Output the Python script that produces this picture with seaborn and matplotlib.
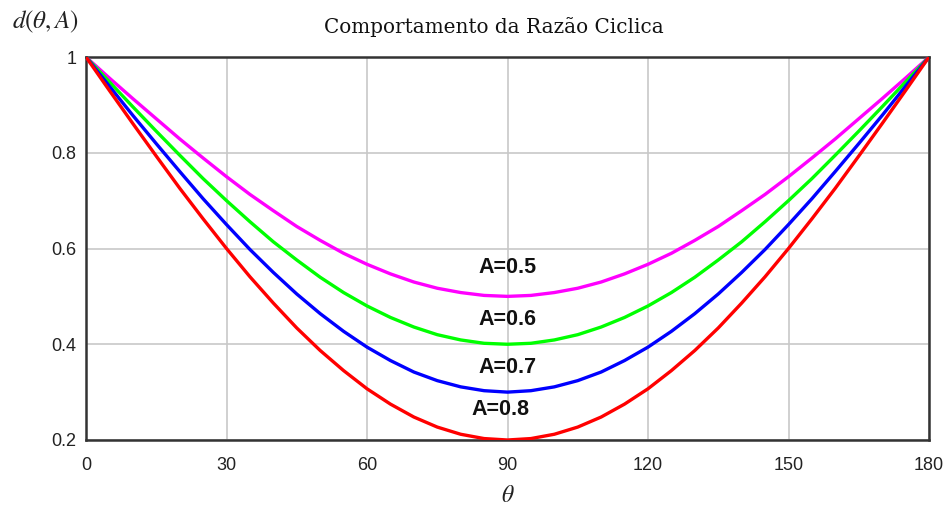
import numpy as np
import pandas as pd
import seaborn as sns
import matplotlib.pyplot as plt

# Duty cycle d(theta, A) sampled every 5 degrees
theta = list(range(0, 185, 5))

d_05 = [1.000, 0.956, 0.913, 0.871, 0.829, 0.789, 0.750, 0.713, 0.679, 0.646,
        0.617, 0.590, 0.567, 0.547, 0.530, 0.517, 0.508, 0.502, 0.500,
        0.502, 0.508, 0.517, 0.530, 0.547, 0.567, 0.590, 0.617, 0.646,
        0.679, 0.713, 0.750, 0.789, 0.829, 0.871, 0.913, 0.956, 1.000]
d_06 = [1.000, 0.948, 0.896, 0.845, 0.795, 0.746, 0.700, 0.656, 0.614, 0.576,
        0.540, 0.508, 0.480, 0.456, 0.436, 0.420, 0.409, 0.402, 0.400,
        0.402, 0.409, 0.420, 0.436, 0.456, 0.480, 0.508, 0.540, 0.576,
        0.614, 0.656, 0.700, 0.746, 0.795, 0.845, 0.896, 0.948, 1.000]
d_07 = [1.000, 0.939, 0.878, 0.819, 0.761, 0.704, 0.650, 0.598, 0.550, 0.505,
        0.464, 0.427, 0.394, 0.366, 0.342, 0.324, 0.311, 0.303, 0.300,
        0.303, 0.311, 0.324, 0.342, 0.366, 0.394, 0.427, 0.464, 0.505,
        0.550, 0.598, 0.650, 0.704, 0.761, 0.819, 0.878, 0.939, 1.000]
d_08 = [1.000, 0.930, 0.861, 0.793, 0.726, 0.662, 0.600, 0.541, 0.486, 0.434,
        0.387, 0.345, 0.307, 0.275, 0.248, 0.227, 0.212, 0.203, 0.200,
        0.203, 0.212, 0.227, 0.248, 0.275, 0.307, 0.345, 0.387, 0.434,
        0.486, 0.541, 0.600, 0.662, 0.726, 0.793, 0.861, 0.930, 1.000]

series_names = ["A=0.5", "A=0.6", "A=0.7", "A=0.8"]
series_colors = ["#ff00ff", "#00ff00", "#0000ff", "#ff0000"]
label_x = [90, 90, 90, 88.5]
label_y = [0.561, 0.451, 0.352, 0.263]

x_ticks = [0, 30, 60, 90, 120, 150, 180]
y_ticks = [0.2, 0.4, 0.6, 0.8, 1.0]
y_tick_labels = ["0.2", "0.4", "0.6", "0.8", "1"]

df = pd.concat([
    pd.DataFrame({"theta": theta, "d": vals, "A": name})
    for name, vals in zip(series_names, [d_05, d_06, d_07, d_08])
])

sns.set_theme(style="white")
plt.rcParams["font.family"] = ["DejaVu Sans"]
plt.rcParams["mathtext.fontset"] = "stix"

fig = plt.figure(figsize=(9.51, 5.11), dpi=100)
ax = fig.add_axes([86 / 951, 1 - 440 / 511, (929 - 86) / 951, (440 - 57) / 511])

sns.lineplot(data=df, x="theta", y="d", hue="A", palette=series_colors,
             linewidth=2.4, legend=False, ax=ax, zorder=3)

ax.set_xlim(0, 180)
ax.set_ylim(0.2, 1.0)
ax.set_xticks(x_ticks)
ax.set_yticks(y_ticks)
ax.set_yticklabels(y_tick_labels)
ax.grid(True, color="#c8c8c8", linewidth=1.2, zorder=0)
ax.tick_params(axis="both", length=0, labelsize=13, colors="#222222")
ax.tick_params(axis="x", pad=12)
ax.tick_params(axis="y", pad=7)
for lbl in ax.get_xticklabels() + ax.get_yticklabels():
    lbl.set_family("Liberation Sans")
for sp in ax.spines.values():
    sp.set_color("#333333")
    sp.set_linewidth(1.8)
ax.set_xlabel("")
ax.set_ylabel("")

for name, lx, ly in zip(series_names, label_x, label_y):
    ax.text(lx, ly, name, ha="center", va="center", fontsize=15.5,
            fontweight="bold", family="Liberation Sans", color="#111111", zorder=4)

fig.text(494 / 951, 1 - 27 / 511, "Comportamento da Razão Ciclica",
         ha="center", va="center", fontsize=14.4, family="DejaVu Serif",
         color="#111111")
fig.text(12 / 951, 1 - 22 / 511, r"$d(\theta,A)$", ha="left", va="center",
         fontsize=18, color="#222222")
fig.text(508 / 951, 1 - 495 / 511, r"$\theta$", ha="center", va="center",
         fontsize=17, color="#222222")

fig.savefig("out.png", dpi=100)
